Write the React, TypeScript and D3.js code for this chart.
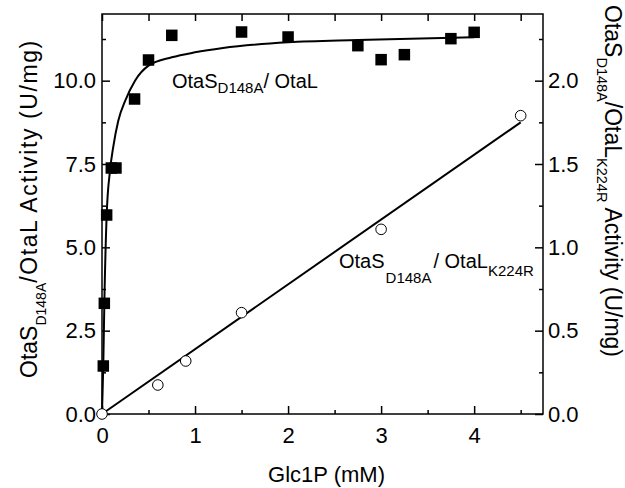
import { useEffect, useRef } from "react";
import * as d3 from "d3";

// OtaS D148A / OtaL (filled squares, left axis)
const glcWt = [0.014, 0.025, 0.05, 0.1, 0.15, 0.35, 0.5, 0.75, 1.5, 2.0, 2.75, 3.0, 3.25, 3.75, 4.0];
const actWt = [1.44, 3.32, 5.97, 7.38, 7.38, 9.45, 10.62, 11.36, 11.46, 11.31, 11.05, 10.63, 10.78, 11.26, 11.45];

// fitted curve
const fitWtGlc = [0, 0.014, 0.025, 0.05, 0.086, 0.12, 0.175, 0.25, 0.355, 0.5, 0.75, 1.0, 1.3, 2.0, 2.75, 4.0];
const fitWtAct = [0, 1.5, 3.3, 5.95, 7.3, 8.0, 8.8, 9.4, 10.0, 10.45, 10.7, 10.85, 10.98, 11.15, 11.22, 11.3];

// OtaS D148A / OtaL K224R (open circles, right axis)
const glcMut = [0, 0.6, 0.9, 1.5, 3.0, 4.5];
const actMut = [0, 0.174, 0.318, 0.608, 1.108, 1.79];
const fitMutGlc = [0, 4.5];
const fitMutAct = [0, 1.75];

const xMajor = [0, 1, 2, 3, 4];
const xMinor = [0.5, 1.5, 2.5, 3.5, 4.5];
const yLeftMajor = [0, 2.5, 5, 7.5, 10];
const yLeftMinor = [1.25, 3.75, 6.25, 8.75, 11.25];
const yRightMajor = [0, 0.5, 1, 1.5, 2];
const yRightMinor = [0.25, 0.75, 1.25, 1.75, 2.25];

const FONT = "'Liberation Sans', Arial, Helvetica, sans-serif";

export default function App() {
  const ref = useRef<SVGSVGElement>(null);

  useEffect(() => {
    const svg = d3.select(ref.current);
    svg.selectAll("*").remove();

    const width = 625;
    const height = 488;
    const margin = { top: 14, right: 82, bottom: 74, left: 102 };
    const x0 = margin.left, x1 = width - margin.right;
    const y0 = height - margin.bottom, y1 = margin.top;

    const x = d3.scaleLinear().domain([0, 4.74]).range([x0, x1]);
    const yL = d3.scaleLinear().domain([0, 12]).range([y0, y1]);
    const yR = d3.scaleLinear().domain([0, 2.4]).range([y0, y1]);

    const style = (g: any) => {
      g.select(".domain").remove();
      g.selectAll("line").attr("stroke", "#000").attr("stroke-width", 1.5);
      g.attr("font-size", 22).attr("font-family", FONT);
      g.selectAll("text").attr("fill", "#000");
    };

    // bottom
    svg.append("g").attr("transform", `translate(0,${y0})`)
      .call(d3.axisBottom(x).tickValues(xMinor).tickSize(-4).tickFormat(() => ""))
      .call(style);
    svg.append("g").attr("transform", `translate(0,${y0})`)
      .call(d3.axisBottom(x).tickValues(xMajor).tickSize(-8).tickPadding(13).tickFormat(d3.format("d")))
      .call(style);
    // top
    svg.append("g").attr("transform", `translate(0,${y1})`)
      .call(d3.axisTop(x).tickValues([...xMajor, ...xMinor]).tickSize(-7).tickFormat(() => ""))
      .call(style);
    // left
    svg.append("g").attr("transform", `translate(${x0},0)`)
      .call(d3.axisLeft(yL).tickValues(yLeftMinor).tickSize(-4).tickFormat(() => ""))
      .call(style);
    svg.append("g").attr("transform", `translate(${x0},0)`)
      .call(d3.axisLeft(yL).tickValues(yLeftMajor).tickSize(-8).tickPadding(6).tickFormat(d3.format(".1f")))
      .call(style);
    // right
    svg.append("g").attr("transform", `translate(${x1},0)`)
      .call(d3.axisRight(yR).tickValues(yRightMinor).tickSize(-4).tickFormat(() => ""))
      .call(style);
    svg.append("g").attr("transform", `translate(${x1},0)`)
      .call(d3.axisRight(yR).tickValues(yRightMajor).tickSize(-8).tickPadding(5).tickFormat(d3.format(".1f")))
      .call(style);

    svg.append("rect")
      .attr("x", x0).attr("y", y1)
      .attr("width", x1 - x0).attr("height", y0 - y1)
      .attr("fill", "none").attr("stroke", "#000").attr("stroke-width", 1.5);

    // fits
    const lineL = d3.line<number>()
      .x((_, i) => x(fitWtGlc[i]))
      .y(d => yL(d))
      .curve(d3.curveMonotoneX);
    svg.append("path").attr("d", lineL(fitWtAct))
      .attr("fill", "none").attr("stroke", "#000").attr("stroke-width", 2);

    const lineR = d3.line<number>()
      .x((_, i) => x(fitMutGlc[i]))
      .y(d => yR(d));
    svg.append("path").attr("d", lineR(fitMutAct))
      .attr("fill", "none").attr("stroke", "#000").attr("stroke-width", 2);

    // points
    const s = 11.5;
    svg.append("g").selectAll("rect")
      .data(actWt)
      .join("rect")
      .attr("x", (_, i) => x(glcWt[i]) - s / 2)
      .attr("y", d => yL(d) - s / 2)
      .attr("width", s).attr("height", s)
      .attr("fill", "#000");

    svg.append("g").selectAll("circle")
      .data(actMut)
      .join("circle")
      .attr("cx", (_, i) => x(glcMut[i]))
      .attr("cy", d => yR(d))
      .attr("r", 5.3)
      .attr("fill", "#fff").attr("stroke", "#000").attr("stroke-width", 1);

    // in-plot labels
    const t1 = svg.append("text").attr("x", 172).attr("y", 88)
      .attr("font-family", FONT).attr("font-size", 20);
    t1.append("tspan").text("OtaS");
    t1.append("tspan").attr("font-size", 15).attr("dy", 5).text("D148A");
    t1.append("tspan").attr("dy", -5).text("/ OtaL");

    const t2 = svg.append("text").attr("x", 339).attr("y", 268)
      .attr("font-family", FONT).attr("font-size", 20);
    t2.append("tspan").text("OtaS");
    t2.append("tspan").attr("font-size", 15).attr("dx", 1).attr("dy", 15).text("D148A");
    t2.append("tspan").attr("dx", 2).attr("dy", -15).text("/ OtaL");
    t2.append("tspan").attr("font-size", 15).attr("dy", 8).text("K224R");

    // axis titles
    svg.append("text").attr("x", (x0 + x1) / 2 + 4).attr("y", 482)
      .attr("text-anchor", "middle")
      .attr("font-family", FONT).attr("font-size", 22)
      .text("Glc1P (mM)");

    const tl = svg.append("text")
      .attr("transform", `translate(37,378) rotate(-90)`)
      .attr("font-family", FONT).attr("font-size", 23);
    tl.append("tspan").text("OtaS");
    tl.append("tspan").attr("font-size", 14).attr("dy", 9).text("D148A");
    tl.append("tspan").attr("dy", -9).attr("letter-spacing", 1.6).text("/OtaL Activity (U/mg)");

    const tr = svg.append("text")
      .attr("transform", `translate(605,5) rotate(90)`)
      .attr("font-family", FONT).attr("font-size", 23);
    tr.append("tspan").text("OtaS");
    tr.append("tspan").attr("font-size", 14.5).attr("dy", 8).text("D148A");
    tr.append("tspan").attr("dy", -8).text("/OtaL");
    tr.append("tspan").attr("font-size", 14.5).attr("dy", 8).text("K224R");
    tr.append("tspan").attr("dy", -8).text(" Activity (U/mg)");
  }, []);

  return (
    <svg
      ref={ref}
      width={625}
      height={488}
      style={{ position: "absolute", left: 0, top: 0, background: "#fff" }}
    />
  );
}
